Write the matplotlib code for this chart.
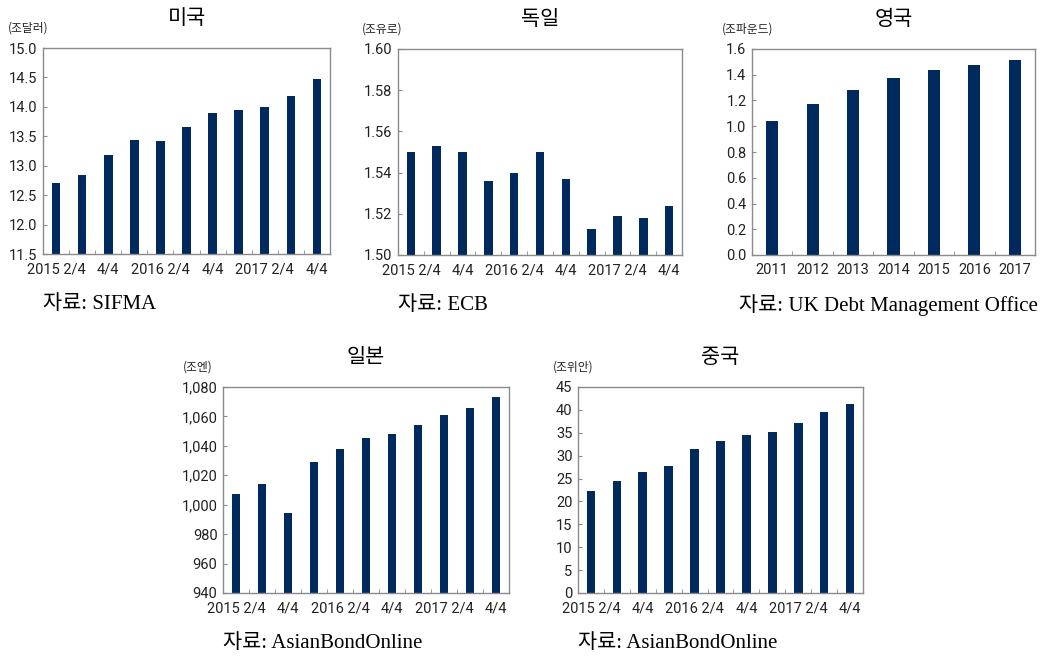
import matplotlib
matplotlib.use("Agg")
import matplotlib.pyplot as plt
import numpy as np
from matplotlib.ticker import FuncFormatter

plt.rcParams['font.family'] = ['Roboto', 'Noto Sans CJK KR', 'DejaVu Sans']

# ----- data -----
quarters = ['2015 2/4', '3/4', '4/4', '2016 1/4', '2/4', '3/4', '4/4',
            '2017 1/4', '2/4', '3/4', '4/4']
quarter_labels = ['2015 2/4', '', '4/4', '', '2016 2/4', '', '4/4', '', '2017 2/4', '', '4/4']
years_uk = ['2011', '2012', '2013', '2014', '2015', '2016', '2017']

us_vals = [12.70, 12.84, 13.19, 13.43, 13.42, 13.65, 13.90, 13.95, 14.00, 14.19, 14.47]
de_vals = [1.550, 1.553, 1.550, 1.536, 1.540, 1.550, 1.537, 1.5125, 1.5188, 1.518, 1.5238]
uk_vals = [1.04, 1.17, 1.28, 1.375, 1.437, 1.473, 1.517]
jp_vals = [1007, 1014, 994.4, 1029, 1038, 1045.5, 1048, 1054, 1061, 1066, 1073]
cn_vals = [22.3, 24.5, 26.4, 27.8, 31.4, 33.2, 34.6, 35.2, 37.1, 39.5, 41.2]

BAR = '#002a5e'
SPINE = '#8a8a8a'
W, H = 1047, 658

fig = plt.figure(figsize=(W / 100, H / 100), dpi=100)


def make_axes(left, top, right, bottom):
    return fig.add_axes([left / W, 1 - bottom / H, (right - left) / W, (bottom - top) / H])


def draw_panel(box, tick_labels, vals, ylim, yticks, fmt, title, unit, unit_dx,
               source, bw, src_right=None):
    left, top, right, bottom = box
    ax = make_axes(left, top, right, bottom)
    x = np.arange(len(vals))
    ax.bar(x, np.array(vals) - ylim[0], bottom=ylim[0], width=bw, color=BAR, zorder=2)
    ax.set_xlim(-0.5, len(vals) - 0.5)
    ax.set_ylim(*ylim)
    ax.set_xticks(x)
    ax.set_xticklabels(tick_labels)
    ax.set_xticks(np.arange(len(vals) + 1) - 0.5, minor=True)
    ax.tick_params(axis='x', which='major', length=0, pad=6, labelsize=10.5, labelcolor='#222222')
    ax.tick_params(axis='x', which='minor', direction='in', length=3, color=SPINE)
    ax.set_yticks(yticks)
    ax.yaxis.set_major_formatter(FuncFormatter(fmt))
    ax.tick_params(axis='y', direction='in', length=3, color=SPINE, pad=4,
                   labelsize=10.5, labelcolor='#222222')
    for s in ax.spines.values():
        s.set_color(SPINE)
        s.set_linewidth(1.0)
    # texts placed in figure pixels
    fig.text((left + right) / 2 / W, 1 - 18 / H - (top - 48) / H, title,
             ha='center', va='center', fontsize=15, family=['Noto Sans CJK KR'])
    fig.text((left + unit_dx) / W, 1 - (top - 20) / H, unit, ha='left', va='center',
             fontsize=8.5, family=['Noto Sans CJK KR'], color='#222222')
    if src_right is None:
        fig.text(left / W, 1 - (bottom + 50) / H, source, ha='left', va='center',
                 fontsize=15, family=['Liberation Serif', 'Noto Sans CJK KR'])
    else:
        fig.text(src_right / W, 1 - (bottom + 50) / H, source, ha='right', va='center',
                 fontsize=15, family=['Liberation Serif', 'Noto Sans CJK KR'])
    return ax


draw_panel((43, 48, 330, 254), quarter_labels, us_vals, (11.5, 15.0),
           np.arange(11.5, 15.01, 0.5), lambda v, p: f'{v:.1f}',
           '미국', '(조달러)', -35, '자료: SIFMA', 0.33)

draw_panel((398, 49, 682, 255), quarter_labels, de_vals, (1.50, 1.60),
           np.arange(1.50, 1.601, 0.02), lambda v, p: f'{v:.2f}',
           '독일', '(조유로)', -36, '자료: ECB', 0.33)

draw_panel((752, 49, 1035, 255), years_uk, uk_vals, (0.0, 1.6),
           np.arange(0, 1.61, 0.2), lambda v, p: f'{v:.1f}',
           '영국', '(조파운드)', -30, '자료: UK Debt Management Office', 0.3,
           src_right=1038)

draw_panel((223, 387, 509, 593), quarter_labels, jp_vals, (940, 1080),
           np.arange(940, 1081, 20), lambda v, p: f'{int(v):,}',
           '일본', '(조엔)', -40, '자료: AsianBondOnline', 0.33)

draw_panel((578, 387, 863, 593), quarter_labels, cn_vals, (0, 45),
           np.arange(0, 46, 5), lambda v, p: f'{int(v)}',
           '중국', '(조위안)', -25, '자료: AsianBondOnline', 0.33)

fig.savefig('out.png', dpi=100)
